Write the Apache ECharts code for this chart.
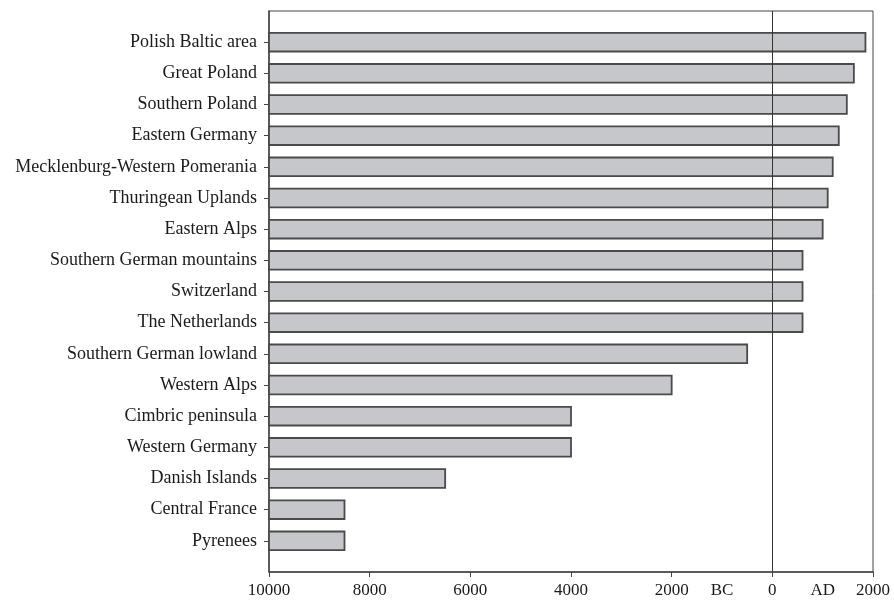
<!DOCTYPE html>
<html>
<head>
<meta charset="utf-8">
<script src="https://cdn.jsdelivr.net/npm/echarts@6/dist/echarts.min.js"></script>
<style>html,body{margin:0;padding:0;background:#fff}#c{width:894px;height:610px}</style>
</head>
<body>
<div id="c"></div>
<script>
const categories = ['Polish Baltic area','Great Poland','Southern Poland','Eastern Germany','Mecklenburg-Western Pomerania','Thuringean Uplands','Eastern Alps','Southern German mountains','Switzerland','The Netherlands','Southern German lowland','Western Alps','Cimbric peninsula','Western Germany','Danish Islands','Central France','Pyrenees'];
const startYear = -10000;
const endYears = [1850, 1620, 1480, 1320, 1200, 1100, 1000, 600, 600, 600, -500, -2000, -4000, -4000, -6500, -8500, -8500];
const tickValues = [-10000, -8000, -6000, -4000, -2000, 0, 2000];
const eraLabels = {'-1000': 'BC', '1000': 'AD'};

const axisCats = [''].concat(categories, ['']);
const barData = endYears.map((v, i) => [startYear, v, i + 1]);
const FONT = '"Liberation Serif", "DejaVu Serif", serif';

const chart = echarts.init(document.getElementById('c'));
chart.setOption({
  animation: false,
  grid: {left: 269, right: 21, top: 11, bottom: 38, show: true, borderColor: '#444', borderWidth: 1},
  xAxis: [{
    type: 'value', min: -10000, max: 2000, interval: 2000,
    axisLine: {show: true, onZero: false, lineStyle: {color: '#444', width: 1.5}},
    axisTick: {show: true, length: 5, lineStyle: {color: '#444'}},
    splitLine: {show: false},
    axisLabel: {fontFamily: FONT, fontSize: 17, color: '#1a1a1a', margin: 10,
      formatter: v => tickValues.indexOf(v) >= 0 ? String(Math.abs(v)) : ''}
  }, {
    type: 'value', position: 'bottom', min: -10000, max: 2000, interval: 1000,
    axisLine: {show: false, onZero: false}, axisTick: {show: false}, splitLine: {show: false},
    axisLabel: {fontFamily: FONT, fontSize: 17, color: '#1a1a1a', margin: 10,
      formatter: v => eraLabels[String(v)] || ''}
  }],
  yAxis: {
    type: 'category', data: axisCats, inverse: true, boundaryGap: false,
    axisLine: {show: true, onZero: false, lineStyle: {color: '#444', width: 1.5}},
    axisTick: {show: true, length: 5, lineStyle: {color: '#444'}, interval: (i, v) => v !== ''},
    axisLabel: {fontFamily: FONT, fontSize: 18, color: '#1a1a1a', margin: 12, interval: (i, v) => v !== ''},
    splitLine: {show: false}
  },
  series: [{
    type: 'custom',
    data: barData,
    encode: {x: [0, 1], y: 2},
    renderItem: function (params, api) {
      const p0 = api.coord([api.value(0), api.value(2)]);
      const p1 = api.coord([api.value(1), api.value(2)]);
      const h = api.size([0, 1])[1] * 0.6;
      return {
        type: 'rect',
        shape: {x: p0[0], y: p0[1] - h / 2, width: p1[0] - p0[0], height: h},
        style: {fill: '#c6c7cb', stroke: '#4a4a4a', lineWidth: 1.8}
      };
    }
  }, {
    type: 'line', data: [], silent: true,
    markLine: {symbol: 'none', silent: true, label: {show: false},
      lineStyle: {color: '#333', width: 1, type: 'solid'},
      data: [{xAxis: 0}]}
  }]
});
</script>
</body>
</html>
